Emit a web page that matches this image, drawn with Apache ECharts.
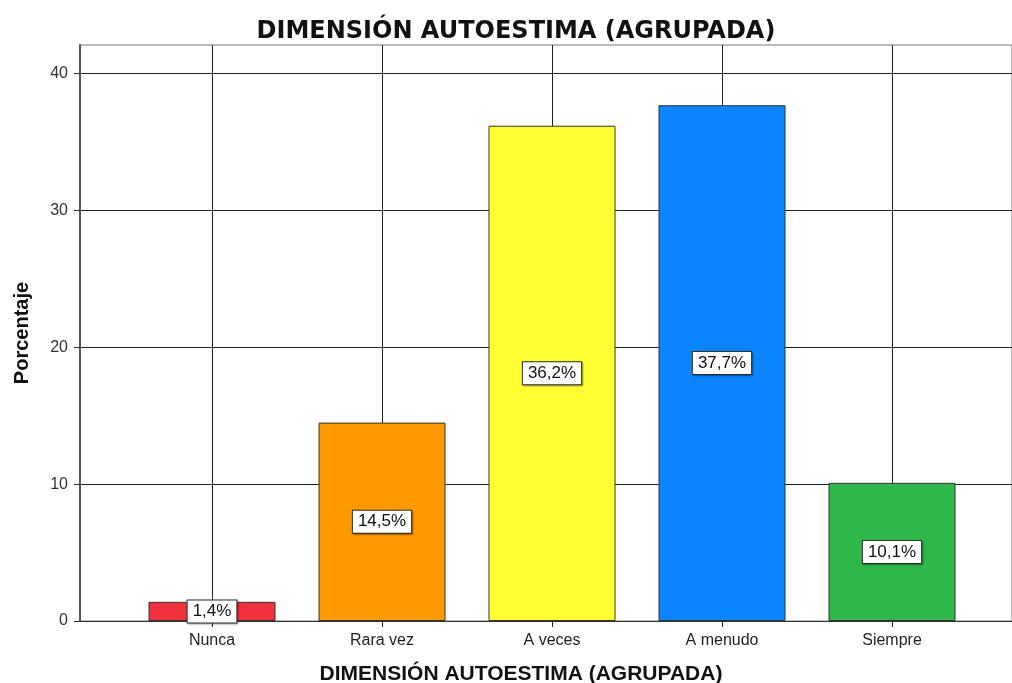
<!DOCTYPE html>
<html>
<head>
<meta charset="utf-8">
<script src="https://cdn.jsdelivr.net/npm/echarts@6/dist/echarts.min.js"></script>
<style>
  html, body { margin: 0; padding: 0; background: #fff; }
  #chart { width: 1012px; height: 683px; }
</style>
</head>
<body>
<div id="chart"></div>
<script>
// datos del gráfico
const categorias = ['Nunca', 'Rara vez', 'A veces', 'A menudo', 'Siempre'];
const porcentajes = [1.4, 14.5, 36.2, 37.7, 10.1];
const colores = ['#F0323E', '#FF9900', '#FFFF33', '#0A84FF', '#2EB84A'];
const ticksY = [0, 10, 20, 30, 40];

var myChart = echarts.init(document.getElementById('chart'));

const fuente = 'Liberation Sans, Arial, sans-serif';
const yMax = 42.1;

const option = {
    animation: false,
    title: [{
        text: 'DIMENSIÓN AUTOESTIMA (AGRUPADA)',
        left: 511,
        top: 15,
        textAlign: 'center',
        textStyle: { fontFamily: 'DejaVu Sans', fontWeight: 'bold', fontSize: 24, color: '#111' }
    }, {
        text: 'DIMENSIÓN AUTOESTIMA (AGRUPADA)',
        left: 516,
        top: 659,
        textAlign: 'center',
        textStyle: { fontFamily: fuente, fontWeight: 'bold', fontSize: 21, color: '#111' }
    }],
    grid: [
        // marco completo
        { left: 80, right: -12, top: 45, bottom: 62, show: true, borderColor: '#777', borderWidth: 1 },
        // zona de barras (centros de categoría)
        { left: 212, right: 120, top: 45, bottom: 62 }
    ],
    xAxis: [{
        gridIndex: 0,
        type: 'value',
        min: 0,
        max: 1,
        axisLine: { show: true, onZero: false, lineStyle: { color: '#333', width: 1 } },
        axisTick: { show: false },
        axisLabel: { show: false },
        splitLine: { show: false }
    }, {
        gridIndex: 1,
        type: 'category',
        data: categorias,
        boundaryGap: false,
        axisLine: { show: false },
        axisTick: { show: true, length: 6, lineStyle: { color: '#222' } },
        axisLabel: { fontFamily: fuente, fontSize: 16, color: '#222', margin: 12 },
        splitLine: { show: true, lineStyle: { color: '#222', width: 1 } }
    }],
    yAxis: [{
        gridIndex: 0,
        type: 'value',
        min: 0,
        max: yMax,
        interval: 10,
        name: 'Porcentaje',
        nameLocation: 'middle',
        nameGap: 48,
        nameRotate: 90,
        nameTextStyle: { fontFamily: fuente, fontWeight: 'bold', fontSize: 20, color: '#111' },
        axisLine: { show: true, lineStyle: { color: '#555', width: 2 } },
        axisTick: { show: true, length: 6, customValues: ticksY, lineStyle: { color: '#333' } },
        axisLabel: {
            fontFamily: fuente, fontSize: 16, color: '#333', margin: 12,
            customValues: ticksY
        },
        splitLine: { show: true, lineStyle: { color: '#222', width: 1 } }
    }, {
        gridIndex: 1,
        type: 'value',
        min: 0,
        max: yMax,
        show: false
    }],
    series: [{
        type: 'bar',
        xAxisIndex: 1,
        yAxisIndex: 1,
        barWidth: 127,
        clip: false,
        data: porcentajes.map((v, i) => ({
            value: v,
            itemStyle: { color: colores[i] }
        })),
        itemStyle: { borderColor: '#333', borderWidth: 1 },
        label: {
            show: true,
            position: 'inside',
            formatter: p => String(p.value).replace('.', ',') + '%',
            fontFamily: fuente,
            fontSize: 17,
            color: '#111',
            backgroundColor: '#fff',
            borderColor: '#333',
            borderWidth: 1,
            padding: [3, 5, 2, 5],
            shadowColor: 'rgba(0,0,0,0.35)',
            shadowBlur: 2,
            shadowOffsetX: 1,
            shadowOffsetY: 1
        }
    }]
};

myChart.setOption(option);

window.addEventListener('resize', function() {
    myChart.resize();
});
</script>
</body>
</html>
